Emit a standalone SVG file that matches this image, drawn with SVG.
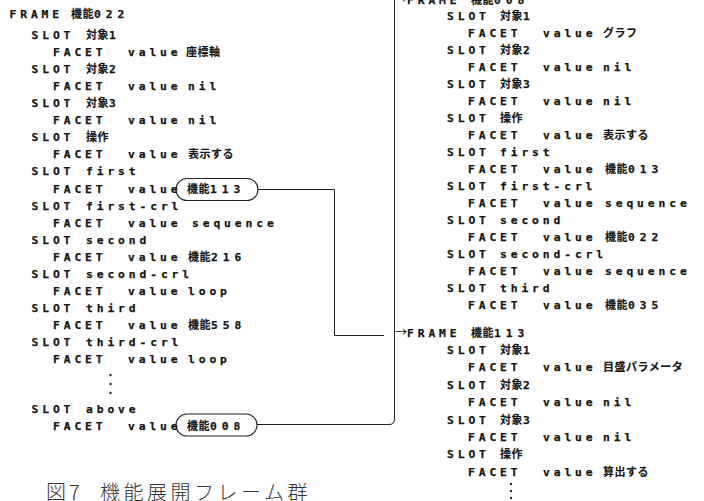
<svg xmlns="http://www.w3.org/2000/svg" width="704" height="501" viewBox="0 0 704 501">
<style>
.a{font-family:"DejaVu Sans Mono","Liberation Mono",monospace;font-weight:bold;font-size:11.3px;letter-spacing:3.9px;fill:#141414;stroke:#141414;stroke-width:0.25}
.j{font-family:"Noto Sans CJK JP","Noto Sans CJK SC",sans-serif;font-weight:bold;font-size:11px;letter-spacing:0.5px;stroke-width:0.1}
.ar{font-family:"Noto Sans CJK JP","Noto Sans CJK SC",sans-serif;font-weight:normal;font-size:12px;letter-spacing:0;stroke-width:0.1}
.d{letter-spacing:5px}
.ln{fill:none;stroke:#222;stroke-width:1}
.ov{fill:none;stroke:#222;stroke-width:1.1}
.dot{fill:#222}
.cap{font-family:"Noto Sans CJK JP","Noto Sans CJK SC",sans-serif;font-size:20px;font-weight:300;fill:#333;letter-spacing:3.5px}
</style>
<rect width="704" height="501" fill="#fff"/>
<g id="frame022">
<text class="a" x="9.5" y="18">FRAME<tspan class="j" x="71">機能</tspan><tspan class="d">022</tspan></text>
<text class="a" x="31.5" y="39">SLOT<tspan class="j" x="86">対象</tspan>1</text>
<text class="a" x="53" y="56.1">FACET<tspan x="128">value</tspan><tspan class="j" x="186">座標軸</tspan></text>
<text class="a" x="31.5" y="73.1">SLOT<tspan class="j" x="86">対象</tspan>2</text>
<text class="a" x="53" y="90.2">FACET<tspan x="128">value</tspan><tspan x="188">nil</tspan></text>
<text class="a" x="31.5" y="107.2">SLOT<tspan class="j" x="86">対象</tspan>3</text>
<text class="a" x="53" y="124.3">FACET<tspan x="128">value</tspan><tspan x="188">nil</tspan></text>
<text class="a" x="31.5" y="141.3">SLOT<tspan class="j" x="86">操作</tspan></text>
<text class="a" x="53" y="158.4">FACET<tspan x="128">value</tspan><tspan class="j" x="188">表示する</tspan></text>
<text class="a" x="31.5" y="175.4">SLOT<tspan x="86">first</tspan></text>
<text class="a" x="53" y="192.5">FACET<tspan x="128">value</tspan><tspan class="j" x="187">機能</tspan><tspan class="d">113</tspan></text>
<rect class="ov" x="176" y="178.5" width="82" height="22" rx="11"/>
<text class="a" x="31.5" y="209.5">SLOT<tspan x="86">first-crl</tspan></text>
<text class="a" x="53" y="226.6">FACET<tspan x="128">value</tspan><tspan x="192">sequence</tspan></text>
<text class="a" x="31.5" y="243.6">SLOT<tspan x="86">second</tspan></text>
<text class="a" x="53" y="260.7">FACET<tspan x="128">value</tspan><tspan class="j" x="188">機能</tspan><tspan class="d">216</tspan></text>
<text class="a" x="31.5" y="277.7">SLOT<tspan x="86">second-crl</tspan></text>
<text class="a" x="53" y="294.8">FACET<tspan x="128">value</tspan><tspan x="188">loop</tspan></text>
<text class="a" x="31.5" y="311.8">SLOT<tspan x="86">third</tspan></text>
<text class="a" x="53" y="328.9">FACET<tspan x="128">value</tspan><tspan class="j" x="188">機能</tspan><tspan class="d">558</tspan></text>
<text class="a" x="31.5" y="345.9">SLOT<tspan x="86">third-crl</tspan></text>
<text class="a" x="53" y="363">FACET<tspan x="128">value</tspan><tspan x="188">loop</tspan></text>
<circle class="dot" cx="110.5" cy="375" r="1.2"/>
<circle class="dot" cx="110.5" cy="384" r="1.2"/>
<circle class="dot" cx="110.5" cy="393" r="1.2"/>
<text class="a" x="31.5" y="412.5">SLOT<tspan x="86">above</tspan></text>
<text class="a" x="53" y="430">FACET<tspan x="128">value</tspan><tspan class="j" x="187">機能</tspan><tspan class="d">008</tspan></text>
<rect class="ov" x="176" y="414" width="81" height="22" rx="11"/>
</g>
<g id="frame008">
<text class="a" x="395" y="3.5"><tspan class="ar">→</tspan><tspan x="407">FRAME</tspan><tspan class="j" x="471">機能</tspan><tspan class="d">008</tspan></text>
<text class="a" x="447" y="19.5">SLOT<tspan class="j" x="500">対象</tspan>1</text>
<text class="a" x="468" y="36.6">FACET<tspan x="543">value</tspan><tspan class="j" x="603">グラフ</tspan></text>
<text class="a" x="447" y="53.6">SLOT<tspan class="j" x="500">対象</tspan>2</text>
<text class="a" x="468" y="70.7">FACET<tspan x="543">value</tspan><tspan x="603">nil</tspan></text>
<text class="a" x="447" y="87.7">SLOT<tspan class="j" x="500">対象</tspan>3</text>
<text class="a" x="468" y="104.8">FACET<tspan x="543">value</tspan><tspan x="603">nil</tspan></text>
<text class="a" x="447" y="121.8">SLOT<tspan class="j" x="500">操作</tspan></text>
<text class="a" x="468" y="138.9">FACET<tspan x="543">value</tspan><tspan class="j" x="603">表示する</tspan></text>
<text class="a" x="447" y="155.9">SLOT<tspan x="500">first</tspan></text>
<text class="a" x="468" y="173">FACET<tspan x="543">value</tspan><tspan class="j" x="605">機能</tspan><tspan class="d">013</tspan></text>
<text class="a" x="447" y="190">SLOT<tspan x="500">first-crl</tspan></text>
<text class="a" x="468" y="207.1">FACET<tspan x="543">value</tspan><tspan x="605">sequence</tspan></text>
<text class="a" x="447" y="224.1">SLOT<tspan x="500">second</tspan></text>
<text class="a" x="468" y="241.2">FACET<tspan x="543">value</tspan><tspan class="j" x="605">機能</tspan><tspan class="d">022</tspan></text>
<text class="a" x="447" y="258.2">SLOT<tspan x="500">second-crl</tspan></text>
<text class="a" x="468" y="275.3">FACET<tspan x="543">value</tspan><tspan x="605">sequence</tspan></text>
<text class="a" x="447" y="292.3">SLOT<tspan x="500">third</tspan></text>
<text class="a" x="468" y="309.4">FACET<tspan x="543">value</tspan><tspan class="j" x="605">機能</tspan><tspan class="d">035</tspan></text>
</g>
<g id="frame113">
<text class="a" x="395" y="337"><tspan class="ar">→</tspan><tspan x="407">FRAME</tspan><tspan class="j" x="471">機能</tspan><tspan class="d">113</tspan></text>
<text class="a" x="447" y="354">SLOT<tspan class="j" x="500">対象</tspan>1</text>
<text class="a" x="468" y="371.4">FACET<tspan x="543">value</tspan><tspan class="j" x="603">目盛パラメータ</tspan></text>
<text class="a" x="447" y="388.8">SLOT<tspan class="j" x="500">対象</tspan>2</text>
<text class="a" x="468" y="406.2">FACET<tspan x="543">value</tspan><tspan x="603">nil</tspan></text>
<text class="a" x="447" y="423.6">SLOT<tspan class="j" x="500">対象</tspan>3</text>
<text class="a" x="468" y="441">FACET<tspan x="543">value</tspan><tspan x="603">nil</tspan></text>
<text class="a" x="447" y="458.4">SLOT<tspan class="j" x="500">操作</tspan></text>
<text class="a" x="468" y="475.8">FACET<tspan x="543">value</tspan><tspan class="j" x="603">算出する</tspan></text>
<circle class="dot" cx="511" cy="484" r="1.2"/>
<circle class="dot" cx="511" cy="491" r="1.2"/>
<circle class="dot" cx="511" cy="498" r="1.2"/>
</g>
<g id="connectors">
<path class="ln" d="M258,189.5 H334.5 V335.5 H384"/>
<path class="ln" d="M257,424.5 H389 Q394.5,424.5 394.5,419 V0"/>
</g>
<g id="caption">
<text class="cap" y="500"><tspan x="46">図</tspan><tspan x="69">7</tspan><tspan x="100">機能展開フレーム群</tspan></text>
</g>
</svg>
